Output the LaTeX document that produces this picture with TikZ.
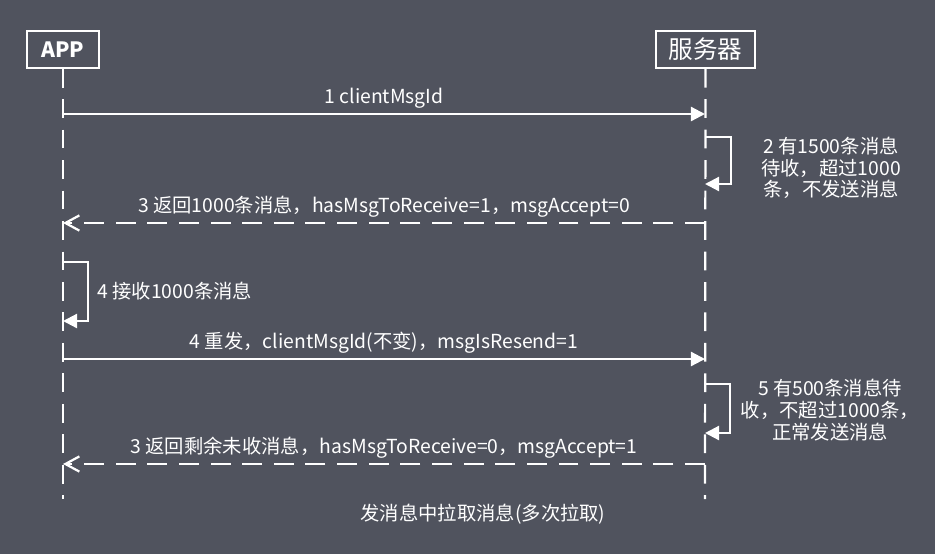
\documentclass[tikz,border=0pt]{standalone}
\usepackage{fontspec}
\setmainfont{Noto Sans CJK SC}
\usetikzlibrary{positioning,arrows.meta,calc}
\definecolor{SlateBack}{RGB}{80,83,94}
\definecolor{LineWhite}{RGB}{255,255,255}
\tikzset{
  actor/.style={draw=LineWhite,line width=1.9pt,text=LineWhite,inner sep=0pt,
    minimum height=31pt,font=\fontsize{18}{20}\selectfont\bfseries},
  lifeline/.style={draw=LineWhite,line width=1.9pt,dash pattern=on 16pt off 10pt},
  msg/.style={-{Triangle[length=12pt,width=12pt]},line width=1.9pt,draw=LineWhite},
  reply/.style={-{Straight Barb[length=12pt,width=13pt,line width=1.9pt]},line width=1.9pt,
    draw=LineWhite,dash pattern=on 17pt off 10pt},
  lbl/.style={text=LineWhite,font=\fontsize{16.5}{18.5}\selectfont,inner sep=1pt},
  note/.style={lbl,align=center}
}
\begin{document}
\begin{tikzpicture}[x=0.03cm,y=-0.03cm]
  \fill[SlateBack] (0,0) rectangle (935,554);
  \useasboundingbox (0,0) rectangle (935,554);
  \node[actor,minimum width=61pt] (app) at (63,49.5) {APP};
  \node[actor,minimum width=84pt,font=\fontsize{21}{22}\selectfont] (srv) at (705.5,49.5) {服务器};
  \coordinate (appEnd) at (63,499);
  \coordinate (srvEnd) at (705,499);
  \draw[lifeline] (app) -- (appEnd);
  \draw[lifeline] (srv.south) -- (srvEnd);

  \coordinate (a1) at (63,114);
  \coordinate (s1) at (705,114);
  \draw[msg] (a1) -- node[lbl,above=3pt] (m1) {1 clientMsgId} (s1);

  \coordinate (s2a) at (705,137);
  \coordinate (s2b) at (705,184);
  \draw[msg] (s2a) -- ++(26,0) |- (s2b);
  \node[note] (n2) at (831,168) {2 有1500条消息\\待收，超过1000\\条，不发送消息};

  \coordinate (s3) at (705,223);
  \coordinate (a3) at (63,223);
  \draw[reply] (s3) -- node[lbl,above=3pt] (m3) {3 返回1000条消息，hasMsgToReceive=1，msgAccept=0} (a3);

  \coordinate (a4a) at (63,262);
  \coordinate (a4b) at (63,321);
  \draw[msg] (a4a) -- ++(25,0) |- (a4b);
  \node[lbl,anchor=west] (n4) at (96,291) {4 接收1000条消息};

  \coordinate (a5) at (63,359);
  \coordinate (s5) at (705,359);
  \draw[msg] (a5) -- node[lbl,above=3pt] (m4) {4 重发，clientMsgId(不变)，msgIsResend=1} (s5);

  \coordinate (s6a) at (705,384);
  \coordinate (s6b) at (705,433);
  \draw[msg] (s6a) -- ++(25,0) |- (s6b);
  \node[note] (n5) at (830,410) {5 有500条消息待\\收，不超过1000条，\\正常发送消息};

  \coordinate (s7) at (705,464);
  \coordinate (a7) at (63,464);
  \draw[reply] (s7) -- node[lbl,above=3pt] (m5) {3 返回剩余未收消息，hasMsgToReceive=0，msgAccept=1} (a7);

  \node[lbl] (title) at (483,514) {发消息中拉取消息(多次拉取)};
\end{tikzpicture}
\end{document}
